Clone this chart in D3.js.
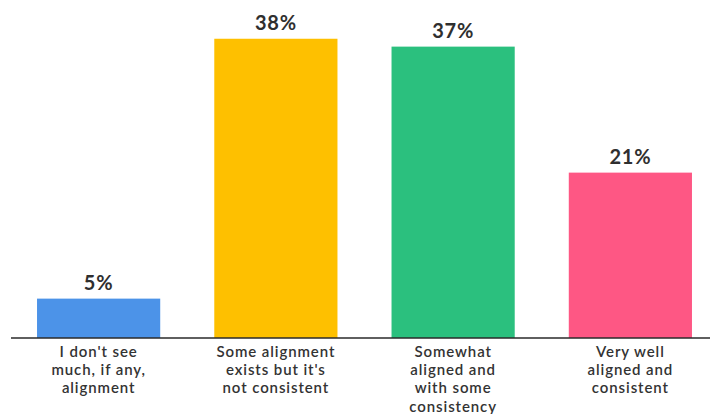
<!DOCTYPE html>
<html>
<head>
<meta charset="utf-8">
<script src="https://cdn.jsdelivr.net/npm/d3@7"></script>
<style>
  html, body { margin: 0; padding: 0; background: #fff; }
  svg { display: block; }
</style>
</head>
<body>
<svg id="chart" width="710" height="414"></svg>
<script>
// Survey responses on alignment
const categories = [
  ["I don't see", "much, if any,", "alignment"],
  ["Some alignment", "exists but it's", "not consistent"],
  ["Somewhat", "aligned and", "with some", "consistency"],
  ["Very well", "aligned and", "consistent"]
];
const values = [5, 38, 37, 21];
const colors = ["#4C93E8", "#FEC000", "#2BC07E", "#FE5784"];

const svg = d3.select("#chart");
const baseline = 338;

const x = d3.scaleBand()
  .domain(d3.range(values.length))
  .range([10, 719])
  .paddingInner(0.305)
  .paddingOuter(0.1525);

const y = d3.scaleLinear()
  .domain([0, 40])
  .range([baseline, baseline - 315]);

// bars
svg.selectAll("rect.bar")
  .data(values)
  .join("rect")
  .attr("class", "bar")
  .attr("x", (d, i) => x(i))
  .attr("y", d => y(d))
  .attr("width", x.bandwidth())
  .attr("height", d => baseline - y(d))
  .attr("fill", (d, i) => colors[i]);

// value labels
svg.selectAll("text.value")
  .data(values)
  .join("text")
  .attr("class", "value")
  .attr("x", (d, i) => x(i) + x.bandwidth() / 2)
  .attr("y", d => y(d) - 9)
  .attr("text-anchor", "middle")
  .attr("font-family", "Lato, sans-serif")
  .attr("font-weight", 700)
  .attr("font-size", 20)
  .attr("letter-spacing", 0.8)
  .attr("fill", "#2f2f2f")
  .text(d => d + "%");

// axis baseline
svg.append("line")
  .attr("x1", 11).attr("x2", 710)
  .attr("y1", baseline).attr("y2", baseline)
  .attr("stroke", "#2a2a2a")
  .attr("stroke-width", 1.6);

// category labels, one text per line
const lineH = 18.2;
categories.forEach((lines, i) => {
  svg.selectAll(null)
    .data(lines)
    .join("text")
    .attr("class", "cat")
    .attr("x", x(i) + x.bandwidth() / 2)
    .attr("y", (d, j) => 357 + j * lineH)
    .attr("text-anchor", "middle")
    .attr("font-family", "Lato, sans-serif")
    .attr("font-weight", 600)
    .attr("font-size", 15)
    .attr("letter-spacing", 0.9)
    .attr("fill", "#333")
    .text(d => d);
});
</script>
</body>
</html>
